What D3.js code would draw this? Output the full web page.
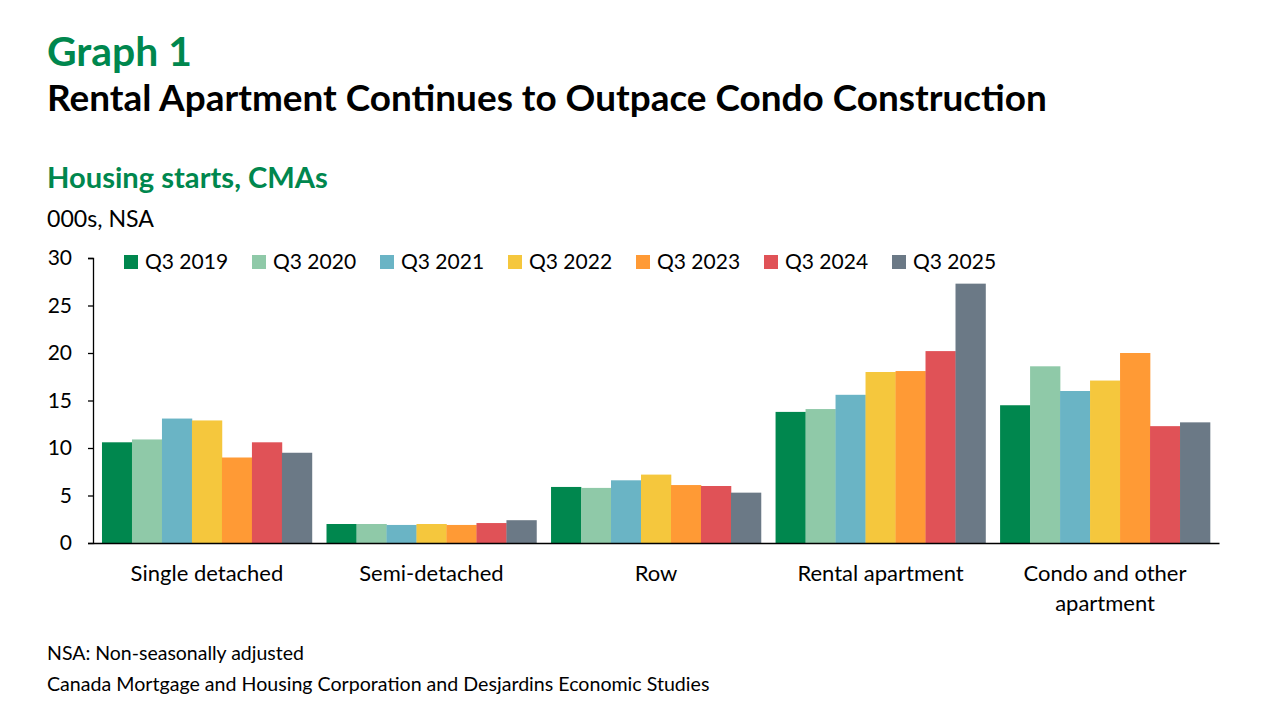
<!DOCTYPE html>
<html>
<head>
<meta charset="utf-8">
<script src="https://cdn.jsdelivr.net/npm/d3@7"></script>
<style>
  body { margin: 0; background: #fff; }
  text { font-family: Lato, "Open Sans", sans-serif; }
</style>
</head>
<body>
<div id="chart"></div>
<script>
// categories and series
var categories = ["Single detached", "Semi-detached", "Row", "Rental apartment", "Condo and other apartment"];
var categoryLines = [["Single detached"], ["Semi-detached"], ["Row"], ["Rental apartment"], ["Condo and other", "apartment"]];
var seriesNames = ["Q3 2019", "Q3 2020", "Q3 2021", "Q3 2022", "Q3 2023", "Q3 2024", "Q3 2025"];
var seriesColors = ["#00874E", "#8FC9A8", "#6AB4C5", "#F5C73D", "#FF9A35", "#E05257", "#6B7986"];

// values in 000s, one array per series (order of categories)
var q3_2019 = [10.6, 2.0, 5.9, 13.8, 14.5];
var q3_2020 = [10.9, 2.0, 5.8, 14.1, 18.6];
var q3_2021 = [13.1, 1.9, 6.6, 15.6, 16.0];
var q3_2022 = [12.9, 2.0, 7.2, 18.0, 17.1];
var q3_2023 = [9.0, 1.9, 6.1, 18.1, 20.0];
var q3_2024 = [10.6, 2.1, 6.0, 20.2, 12.3];
var q3_2025 = [9.5, 2.4, 5.3, 27.3, 12.7];
var seriesValues = [q3_2019, q3_2020, q3_2021, q3_2022, q3_2023, q3_2024, q3_2025];

var yTicks = [0, 5, 10, 15, 20, 25, 30];

var svg = d3.select("#chart").append("svg")
  .attr("width", 1280)
  .attr("height", 720);

// fit a text element to a given pixel width
function fit(sel, w) {
  var node = sel.node();
  var fs = parseFloat(sel.attr("font-size"));
  var len = node.getComputedTextLength();
  sel.attr("font-size", (fs * w / len).toFixed(2));
  return sel;
}

// titles
fit(svg.append("text").attr("x", 47).attr("y", 66)
  .attr("font-size", 36).attr("font-weight", "bold").attr("fill", "#00874E")
  .text("Graph 1"), 145);

fit(svg.append("text").attr("x", 47).attr("y", 111)
  .attr("font-size", 32).attr("font-weight", "bold").attr("fill", "#000")
  .text("Rental Apartment Continues to Outpace Condo Construction"), 1000);

fit(svg.append("text").attr("x", 47).attr("y", 188)
  .attr("font-size", 26).attr("font-weight", "bold").attr("fill", "#00874E")
  .text("Housing starts, CMAs"), 281);

fit(svg.append("text").attr("x", 47).attr("y", 227)
  .attr("font-size", 20).attr("fill", "#000")
  .text("000s, NSA"), 107);

// footer
fit(svg.append("text").attr("x", 47).attr("y", 660)
  .attr("font-size", 17).attr("fill", "#000")
  .text("NSA: Non-seasonally adjusted"), 257);

fit(svg.append("text").attr("x", 47).attr("y", 691)
  .attr("font-size", 17).attr("fill", "#000")
  .text("Canada Mortgage and Housing Corporation and Desjardins Economic Studies"), 663);

// scales
var x0 = d3.scaleBand()
  .domain(categories)
  .range([93, 1219])
  .paddingInner(0.065)
  .paddingOuter(0.04);

var x1 = d3.scaleBand()
  .domain(seriesNames)
  .range([0, x0.bandwidth()]);

var y = d3.scaleLinear()
  .domain([0, 30])
  .range([543, 258]);

var g = svg.append("g");

// bars
var groups = g.selectAll("g.cat")
  .data(categories)
  .enter().append("g")
  .attr("class", "cat")
  .attr("transform", function(d) { return "translate(" + x0(d) + ",0)"; });

groups.selectAll("rect")
  .data(function(d, ci) {
    return seriesNames.map(function(s, si) { return { s: s, si: si, v: seriesValues[si][ci] }; });
  })
  .enter().append("rect")
  .attr("x", function(d) { return x1(d.s); })
  .attr("y", function(d) { return y(d.v); })
  .attr("width", x1.bandwidth() + 0.3)
  .attr("height", function(d) { return y(0) - y(d.v); })
  .attr("fill", function(d) { return seriesColors[d.si]; });

// y axis
var yAxis = g.append("g")
  .attr("transform", "translate(93,0)")
  .call(d3.axisLeft(y).tickValues(yTicks).tickSize(5).tickPadding(16));
yAxis.select(".domain").attr("stroke", "#000").attr("stroke-width", 1.3);
yAxis.selectAll(".tick line").attr("stroke", "#000").attr("stroke-width", 1.3);
yAxis.selectAll(".tick text")
  .attr("font-size", 21)
  .attr("font-family", "Lato, sans-serif")
  .attr("fill", "#000");

// x axis line
var xAxis = g.append("g")
  .attr("transform", "translate(0," + y(0) + ")")
  .call(d3.axisBottom(x0).tickSize(0).tickFormat(""));
xAxis.select(".domain").attr("stroke", "#000").attr("stroke-width", 1.3);

// category labels
g.selectAll("text.cat")
  .data(categories)
  .enter().append("text")
  .attr("class", "cat")
  .attr("text-anchor", "middle")
  .attr("font-size", 22)
  .attr("fill", "#000")
  .attr("x", function(d) { return x0(d) + x0.bandwidth() / 2; })
  .attr("y", 581)
  .each(function(d, i) {
    var t = d3.select(this);
    categoryLines[i].forEach(function(line, li) {
      t.append("tspan")
        .attr("x", x0(d) + x0.bandwidth() / 2)
        .attr("dy", li === 0 ? 0 : 30)
        .text(line);
    });
  });

// legend
var legend = svg.append("g").attr("transform", "translate(124,255)");
var items = legend.selectAll("g")
  .data(seriesNames)
  .enter().append("g")
  .attr("transform", function(d, i) { return "translate(" + (i * 128) + ",0)"; });
items.append("rect")
  .attr("width", 14)
  .attr("height", 14)
  .attr("fill", function(d, i) { return seriesColors[i]; });
items.append("text")
  .attr("x", 21)
  .attr("y", 14)
  .attr("font-size", 21)
  .attr("fill", "#000")
  .text(function(d) { return d; });
</script>
</body>
</html>
